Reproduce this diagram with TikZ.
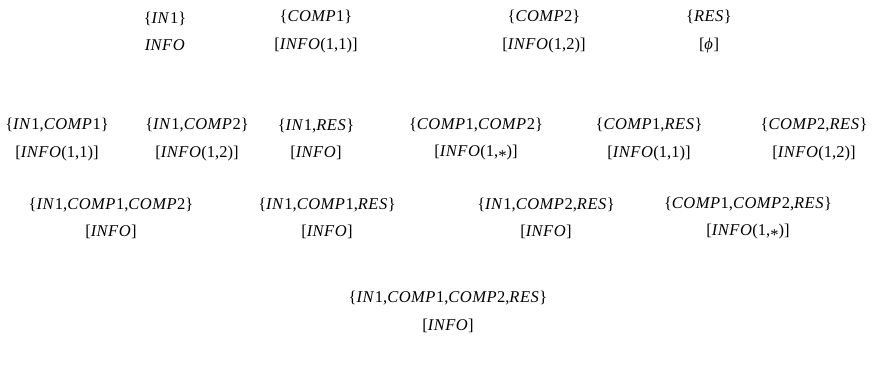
\documentclass[tikz,border=0pt]{standalone}
\usepackage{fontspec}
\setmainfont{Liberation Serif}[ItalicFeatures={LetterSpace=3}]
% italic variable names, upright digits and punctuation
\newcommand\tv[1]{\textit{#1}}
\newcommand\tast{\raisebox{-0.28em}{*}}
\begin{document}
\begin{tikzpicture}[x=1pt,y=-1pt,
  setnode/.style={align=center, font=\fontsize{16.5}{27.5}\selectfont, inner sep=0pt, anchor=center}]
\useasboundingbox (0,0) rectangle (874,380);
% singletons
\node[setnode] (a1) at (165,31.5) {\{\tv{IN}1\}\\\tv{INFO}};
\node[setnode] (a2) at (316,31.5) {\{\tv{COMP}1\}\\{[}\tv{INFO}(1,1)]};
\node[setnode] (a3) at (544,31.5) {\{\tv{COMP}2\}\\{[}\tv{INFO}(1,2)]};
\node[setnode] (a4) at (709,31.5) {\{\tv{RES}\}\\{[}\tv{ϕ}]};
% pairs
\node[setnode] (b1) at (57,139.5) {\{\tv{IN}1,\tv{COMP}1\}\\{[}\tv{INFO}(1,1)]};
\node[setnode] (b2) at (197,139.5) {\{\tv{IN}1,\tv{COMP}2\}\\{[}\tv{INFO}(1,2)]};
\node[setnode] (b3) at (316,139.5) {\{\tv{IN}1,\tv{RES}\}\\{[}\tv{INFO}]};
\node[setnode] (b4) at (476,139.5) {\{\tv{COMP}1,\tv{COMP}2\}\\{[}\tv{INFO}(1,\tast)]};
\node[setnode] (b5) at (649,139.5) {\{\tv{COMP}1,\tv{RES}\}\\{[}\tv{INFO}(1,1)]};
\node[setnode] (b6) at (814,139.5) {\{\tv{COMP}2,\tv{RES}\}\\{[}\tv{INFO}(1,2)]};
% triples
\node[setnode] (c1) at (111,218.5) {\{\tv{IN}1,\tv{COMP}1,\tv{COMP}2\}\\{[}\tv{INFO}]};
\node[setnode] (c2) at (327,218.5) {\{\tv{IN}1,\tv{COMP}1,\tv{RES}\}\\{[}\tv{INFO}]};
\node[setnode] (c3) at (546,218.5) {\{\tv{IN}1,\tv{COMP}2,\tv{RES}\}\\{[}\tv{INFO}]};
\node[setnode] (c4) at (748,218.5) {\{\tv{COMP}1,\tv{COMP}2,\tv{RES}\}\\{[}\tv{INFO}(1,\tast)]};
% full set
\node[setnode] (d1) at (448,312) {\{\tv{IN}1,\tv{COMP}1,\tv{COMP}2,\tv{RES}\}\\{[}\tv{INFO}]};
\end{tikzpicture}
\end{document}
